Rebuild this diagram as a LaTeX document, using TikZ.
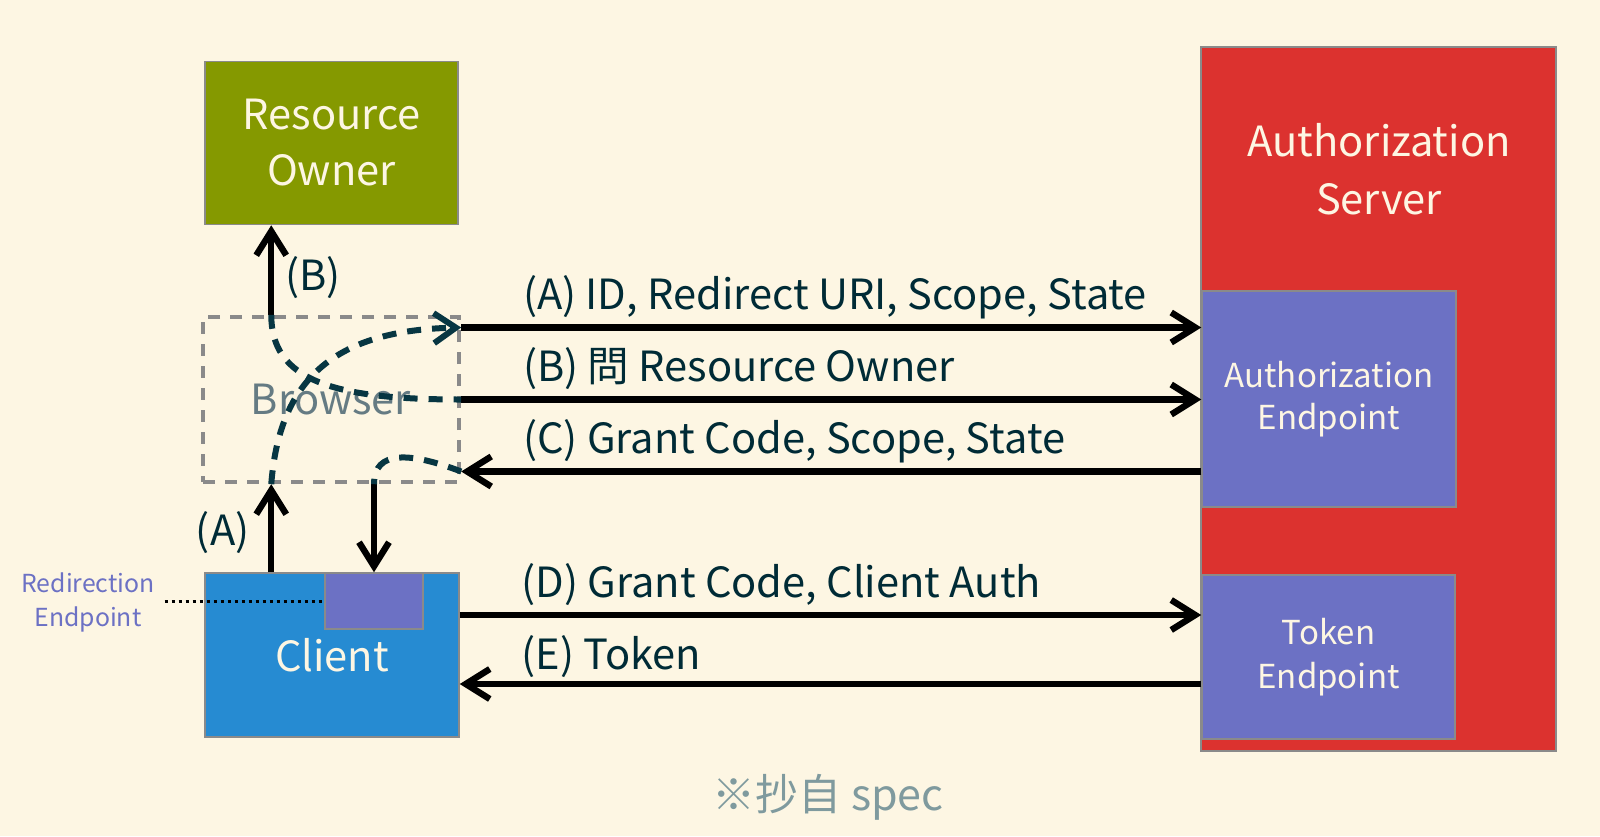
\documentclass[tikz,border=0pt]{standalone}
\usepackage{fontspec}
\setmainfont{Noto Sans CJK SC}
\usetikzlibrary{arrows.meta,positioning}

\definecolor{bgcream}{HTML}{FDF6E3}
\definecolor{ownergreen}{HTML}{859900}
\definecolor{clientblue}{HTML}{268BD2}
\definecolor{serverred}{HTML}{DC322F}
\definecolor{endviolet}{HTML}{6C71C4}
\definecolor{inkdark}{HTML}{002B36}
\definecolor{pathdark}{HTML}{073642}
\definecolor{edgegray}{HTML}{8A8A8A}
\definecolor{browsergray}{HTML}{657B83}
\definecolor{notegray}{HTML}{7F9A9E}

\begin{document}
\begin{tikzpicture}[x=0.5pt, y=-0.5pt,
    box/.style={draw=edgegray, line width=0.75pt, text=bgcream, align=center},
    msg/.style={line width=3.2pt, -{Straight Barb[length=12pt, width=15pt, line join=miter]}},
    hop/.style={draw=pathdark, line width=3pt, dash pattern=on 7pt off 5.5pt},
    lbl/.style={text=inkdark, font=\fontsize{20.8}{24}\selectfont},
  ]
  \fill[bgcream] (0,0) rectangle (1600,836);
  \useasboundingbox (0,0) rectangle (1600,836);

  \node[box, fill=ownergreen, minimum width=126.5pt, minimum height=81.5pt,
        font=\fontsize{20.8}{29}\selectfont] (RO) at (331.5,143) {\raisebox{-1pt}{Resource}\\Owner};

  \node[draw=edgegray, line width=2.2pt, dash pattern=on 6pt off 5pt,
        minimum width=128pt, minimum height=82.5pt, text=browsergray,
        font=\fontsize{20.8}{29}\selectfont] (browser) at (331,399.5) {Browser};

  \node[box, fill=clientblue, minimum width=127pt, minimum height=82pt,
        font=\fontsize{20.8}{29}\selectfont] (client) at (332,655) {\raisebox{-1pt}{Client}};
  \node[box, fill=endviolet, minimum width=49pt, minimum height=28pt] (redir) at (374,601) {};

  \node[box, fill=serverred, minimum width=177.5pt, minimum height=352pt] (AS) at (1378.5,399) {};
  \node[text=bgcream, align=center, font=\fontsize{20.8}{29}\selectfont] (ASname) at (1379,169) {Authorization\\Server};

  \node[box, fill=endviolet, minimum width=127pt, minimum height=108pt,
        font=\fontsize{16.5}{22.5}\selectfont] (AE) at (1329,399) {\raisebox{-1.5pt}{Authorization}\\Endpoint};
  \node[box, fill=endviolet, minimum width=126.5pt, minimum height=82pt,
        font=\fontsize{16.5}{23}\selectfont] (TE) at (1328.5,657) {\raisebox{-1pt}{Token}\\Endpoint};

  \node[text=endviolet, align=center, font=\fontsize{12.4}{17}\selectfont] (rlabel) at (88,602) {Redirection\\Endpoint};
  \draw[line width=1.5pt, dash pattern=on 1.5pt off 2pt] ([xshift=1.5pt]rlabel.east |- redir.west) -- (redir.west);

  \node[text=notegray, font=\fontsize{21.5}{24}\selectfont] (note) at (828,797) {※抄自 spec};

  % browser hops
  \draw[msg] ([xshift=33.5pt]client.north west) coordinate (a0) -- (a0 |- browser.south) coordinate (a1)
    node[lbl, midway, left=6pt, yshift=-2pt] {(A)};
  \draw[msg] (a1 |- browser.north) coordinate (b0) -- (b0 |- RO.south)
    node[lbl, midway, right=2pt, yshift=-4pt] {(B)};
  \draw[msg] (browser.south -| redir.north) coordinate (c1) -- (redir.north);

  % front channel
  \coordinate (ra) at ([yshift=36pt]browser.east);
  \coordinate (rb) at (browser.east);
  \coordinate (rc) at ([yshift=-36pt]browser.east);
  \draw[msg] (ra) -- (ra -| AE.west)
    node[lbl, at start, anchor=base west, xshift=26pt, yshift=9pt] {(A) ID, Redirect URI, Scope, State};
  \draw[msg] (rb) -- (rb -| AE.west)
    node[lbl, at start, anchor=base west, xshift=26pt, yshift=9pt] {(B) 問 Resource Owner};
  \draw[msg] (rc -| AE.west) -- (rc)
    node[lbl, at end, anchor=base west, xshift=26pt, yshift=9pt] {(C) Grant Code, Scope, State};

  \draw[hop, -{Straight Barb[length=11pt, width=15pt, line join=miter]}] (a1) .. controls +(8,-103) and +(-129,3) .. (ra);
  \draw[hop] (b0) .. controls +(0,65) and +(-130,0) .. (rb);
  \draw[hop] (rc) .. controls +(-50,-19) and +(0,-35) .. (c1);

  % back channel
  \coordinate (rd) at ([yshift=20pt]client.east);
  \coordinate (re) at ([yshift=-14.5pt]client.east);
  \draw[msg] (rd) -- (rd -| TE.west)
    node[lbl, at start, anchor=base west, xshift=26pt, yshift=9pt] {(D) Grant Code, Client Auth};
  \draw[msg] (re -| TE.west) -- (re)
    node[lbl, at end, anchor=base west, xshift=26pt, yshift=7.5pt] {(E) Token};
\end{tikzpicture}
\end{document}
